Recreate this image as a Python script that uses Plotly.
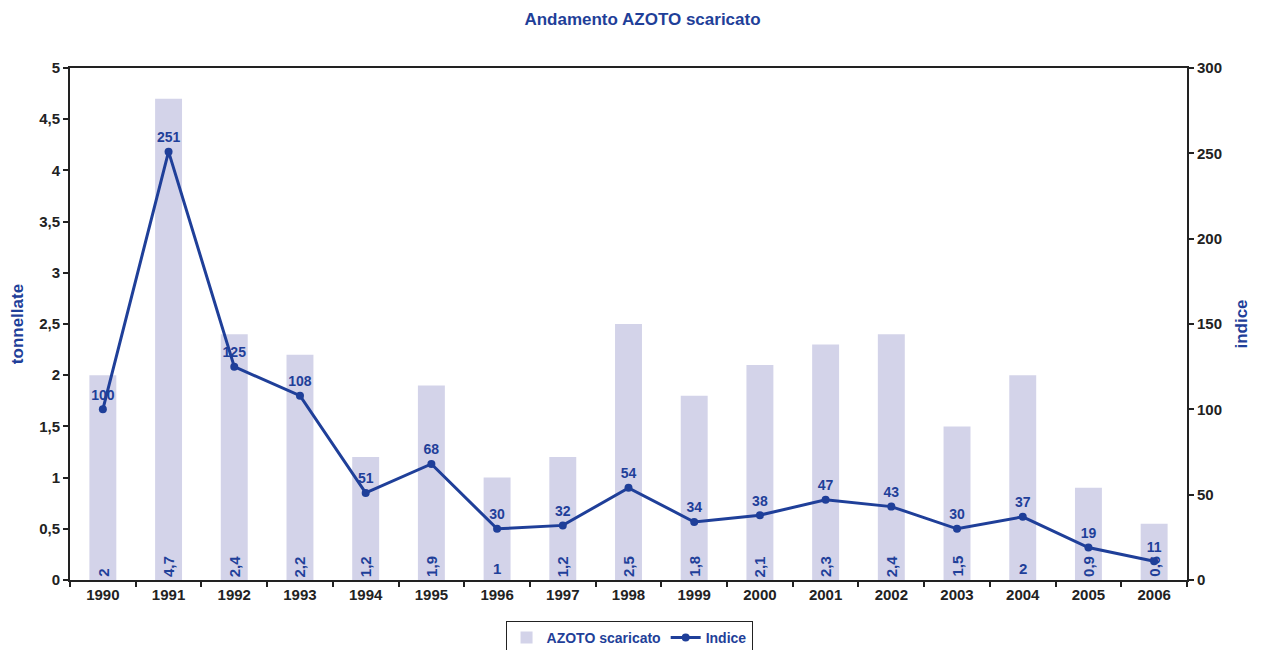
import plotly.graph_objects as go

years = ["1990","1991","1992","1993","1994","1995","1996","1997","1998","1999","2000","2001","2002","2003","2004","2005","2006"]
tonnes = [2, 4.7, 2.4, 2.2, 1.2, 1.9, 1, 1.2, 2.5, 1.8, 2.1, 2.3, 2.4, 1.5, 2, 0.9, 0.55]
tonnes_labels = ["2","4,7","2,4","2,2","1,2","1,9","1","1,2","2,5","1,8","2,1","2,3","2,4","1,5","2","0,9","0,6"]
label_angles = [-90, -90, -90, -90, -90, -90, 0, -90, -90, -90, -90, -90, -90, -90, 0, -90, -90]
indice = [100, 251, 125, 108, 51, 68, 30, 32, 54, 34, 38, 47, 43, 30, 37, 19, 11]

BLUE = "#1F3F99"
BAR = "#D3D3E9"
FONT = "Liberation Sans, Arial, sans-serif"

fig = go.Figure()
fig.add_trace(go.Bar(
    x=years, y=tonnes, name="AZOTO scaricato",
    marker=dict(color=BAR, line=dict(width=0)),
    width=0.41,
))
fig.add_trace(go.Scatter(
    x=years, y=indice, name="Indice", yaxis="y2",
    mode="lines+markers+text",
    line=dict(color=BLUE, width=3),
    marker=dict(color=BLUE, size=8),
    text=[str(v) for v in indice], textposition="top center",
    textfont=dict(color=BLUE, size=14, family=FONT, weight="bold"),
    cliponaxis=False,
))

# bar value labels at the base of each bar (category index on the x axis)
for i, (lab, ang) in enumerate(zip(tonnes_labels, label_angles)):
    fig.add_annotation(
        x=i, y=0, xref="x", yref="y", text=f"<b>{lab}</b>", textangle=ang,
        showarrow=False, xanchor="center", yanchor="bottom", yshift=1,
        font=dict(color=BLUE, size=15, family=FONT),
    )

axis_common = dict(
    showgrid=False, zeroline=False, showline=True, linecolor="#222", linewidth=2,
    ticks="outside", ticklen=5, tickcolor="#222", tickwidth=1.5,
    tickfont=dict(family=FONT, size=15, color="#222", weight="bold"),
    automargin=False,
)

fig.update_layout(
    width=1269, height=650,
    paper_bgcolor="white", plot_bgcolor="white",
    separators=",.",
    font=dict(family=FONT, color="#222"),
    title=dict(text="<b>Andamento AZOTO scaricato</b>", x=0.5, xanchor="center",
               yref="container", y=1 - 11 / 650, yanchor="middle",
               font=dict(family=FONT, size=17, color=BLUE)),
    margin=dict(l=62, r=90, t=60, b=78, autoexpand=False),
    xaxis=dict(**axis_common, type="category", tickson="boundaries", mirror=True, range=[-0.5, 16.5]),
    yaxis=dict(**axis_common, range=[0, 5], dtick=0.5, tickformat=".1~f",
               title=dict(text="<b>tonnellate</b>", font=dict(family=FONT, size=17, color=BLUE), standoff=14)),
    yaxis2=dict(**axis_common, overlaying="y", side="right", range=[0, 300], dtick=50,
                title=dict(text="<b>indice</b>", font=dict(family=FONT, size=17, color=BLUE), standoff=14)),
    legend=dict(orientation="h", x=0.5005, xanchor="center",
                yref="container", y=20 / 650, yanchor="middle",
                bordercolor="#222", borderwidth=1, bgcolor="white",
                font=dict(family=FONT, size=14, color=BLUE, weight="bold"), tracegroupgap=0, itemwidth=30),
    showlegend=True,
)

fig.write_html("out.html")
